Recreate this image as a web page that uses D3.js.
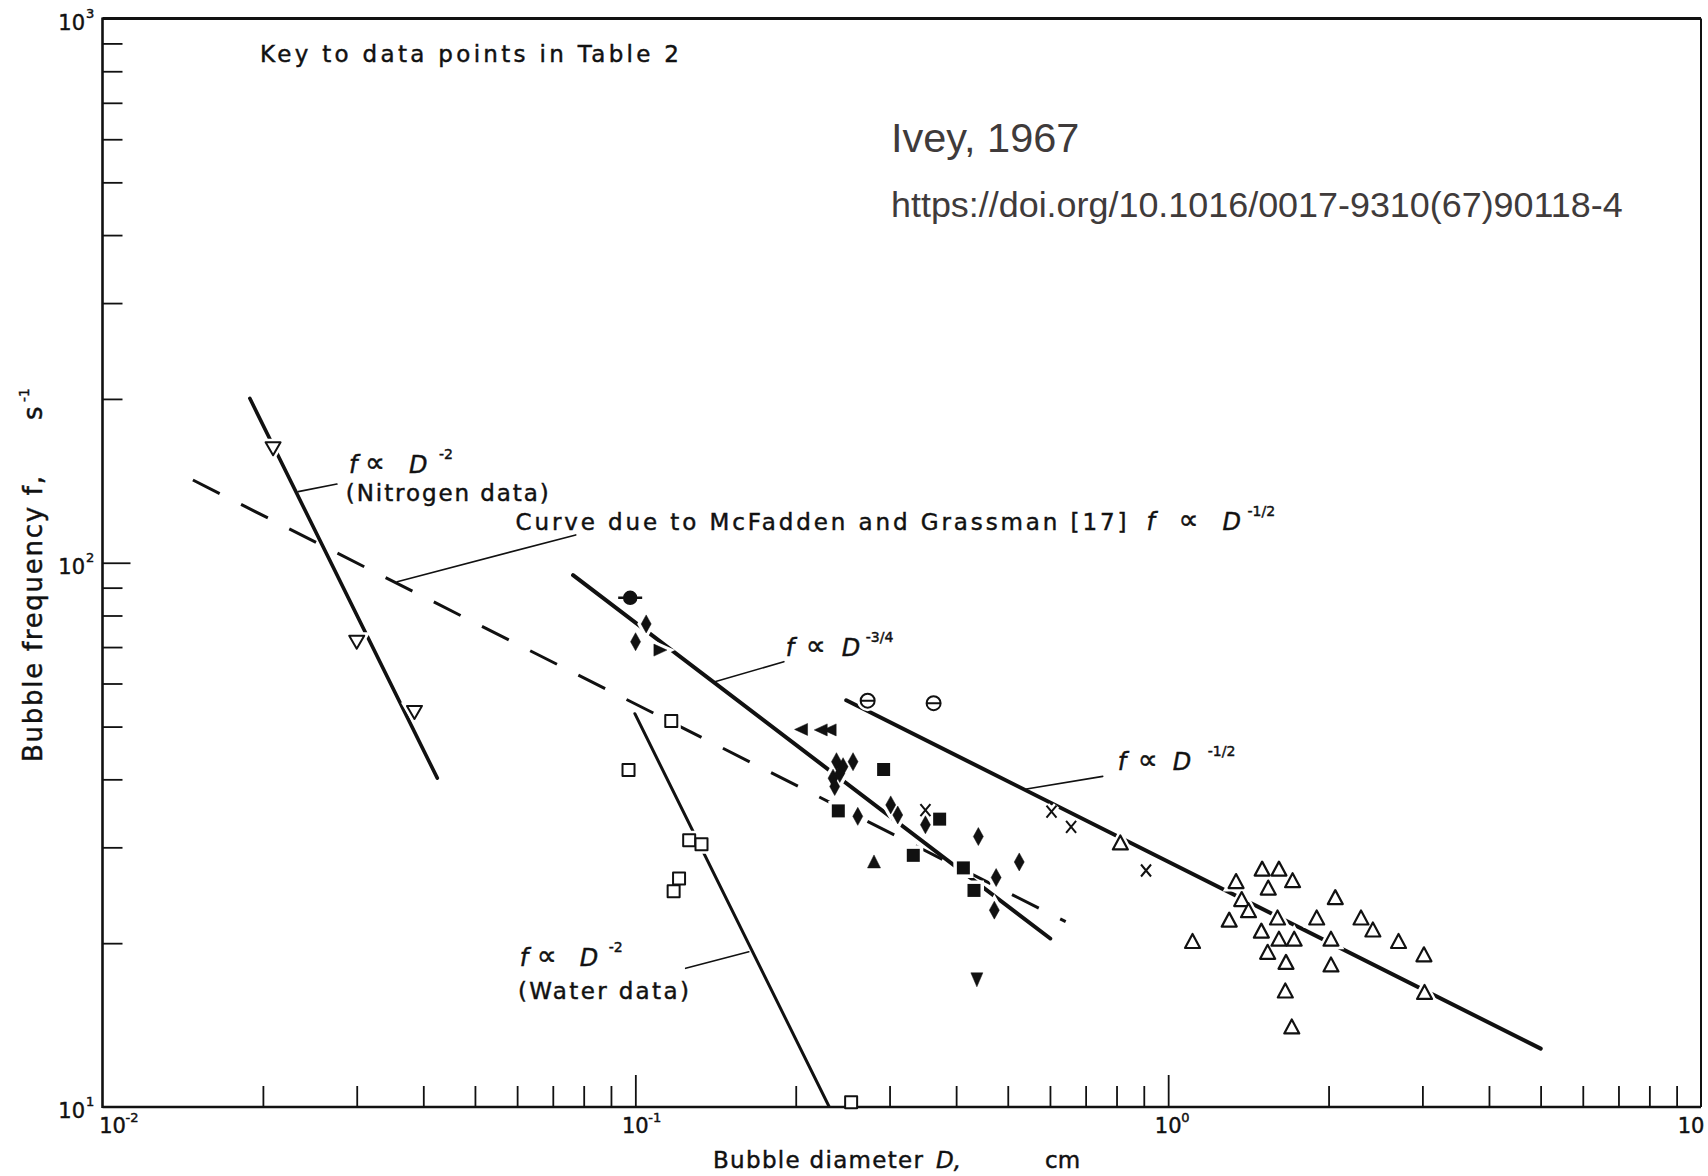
<!DOCTYPE html>
<html>
<head>
<meta charset="utf-8">
<script src="https://cdn.jsdelivr.net/npm/d3@7"></script>
<style>
  html, body { margin: 0; padding: 0; background: #fff; }
  svg { display: block; }
</style>
</head>
<body>
<div id="chart"></div>
<script>
// values: D in cm, f in 1/s
const nitrogenPts = [[0.0209, 162.3], [0.0300, 71.6], [0.0385, 53.2]];
const waterPts = [[0.1168, 51.2], [0.0971, 41.6], [0.1262, 30.9], [0.1331, 30.4], [0.1208, 26.3], [0.1180, 24.9], [0.2541, 10.2]];
const diamondPts = [
  [0.1048, 77.2], [0.1001, 71.6], [0.2385, 43.1], [0.2454, 42.2], [0.2562, 43.1], [0.2350, 40.2],
  [0.2419, 41.0], [0.2367, 38.8], [0.2615, 34.2], [0.3015, 35.9], [0.3108, 34.4], [0.3503, 33.0],
  [0.4403, 31.4], [0.4755, 26.4], [0.5254, 28.2], [0.4718, 23.0]
];
const squarePts = [[0.2924, 41.7], [0.2404, 35.0], [0.3725, 33.8], [0.3324, 29.0], [0.4127, 27.5], [0.4321, 25.0]];
const leftTriPts = [[0.2051, 49.4], [0.2233, 49.3], [0.2321, 49.3]];
const rightTriPts = [[0.1112, 69.1]];
const upTriPts = [[0.2805, 28.2]];
const downTriPts = [[0.4375, 17.2]];
const dotBarPts = [[0.0978, 86.2]];
const crossPts = [[0.3503, 35.1], [0.604, 34.9], [0.6574, 32.7], [0.9088, 27.2]];
const thetaPts = [[0.2729, 55.8], [0.3629, 55.2]];
const openTriPts = [
  [0.8133, 30.5], [1.111, 20.1], [1.302, 22.0], [1.341, 25.9], [1.374, 24.0], [1.415, 22.9],
  [1.501, 27.3], [1.614, 27.3], [1.541, 25.2], [1.712, 26.0], [1.496, 21.0], [1.604, 22.2],
  [1.614, 20.3], [1.724, 20.3], [1.537, 19.2], [1.664, 18.4], [1.659, 16.3], [1.706, 14.0],
  [1.900, 22.2], [2.059, 24.2], [2.021, 20.3], [2.021, 18.2], [2.301, 22.2], [2.422, 21.1],
  [2.706, 20.1], [3.020, 19.0], [3.028, 16.2]
];

// fitted lines (end points)
const nitrogenFit = [[0.0189, 200.5], [0.0425, 40.2]];
const waterFit = [[0.0998, 52.8], [0.2312, 10]];
const mcFaddenCurve = [[0.01478, 141.9], [0.6422, 21.9]];
const fitThreeQuarter = [[0.0764, 94.9], [0.6008, 20.4]];
const fitHalf = [[0.2488, 55.9], [5.003, 12.8]];

// label leader lines
const leaders = [
  [[0.0233, 135.1], [0.02754, 139.5]],
  [[0.03573, 92.3], [0.07729, 112.5]],
  [[0.141, 60.44], [0.19, 65.8]],
  [[0.542, 38.4], [0.7537, 40.5]],
  [[0.1633, 19.29], [0.1243, 17.98]]
];

const xExps = [-2, -1, 0, 1];
const yExps = [1, 2, 3];

const W = 1708, H = 1176;
const L = 102.5, R = 1701, T = 18.5, B = 1107;
const ink = '#111';

const x = d3.scaleLog().domain([0.01, 10]).range([L, R]);
const y = d3.scaleLog().domain([10, 1000]).range([B, T]);
const line = d3.line().x(d => x(d[0])).y(d => y(d[1]));

const svg = d3.select('#chart').append('svg')
  .attr('width', W)
  .attr('height', H)
  .style('font-family', '"DejaVu Sans", sans-serif');

svg.append('rect').attr('width', W).attr('height', H).attr('fill', '#fff');

svg.append('clipPath').attr('id', 'plot')
  .append('rect').attr('x', L).attr('y', T).attr('width', R - L).attr('height', B - T);

// lines
const lines = svg.append('g')
  .attr('clip-path', 'url(#plot)')
  .attr('fill', 'none')
  .attr('stroke', ink)
  .attr('stroke-linecap', 'round');

lines.append('path').attr('d', line(nitrogenFit)).attr('stroke-width', 3.6);
lines.append('path').attr('d', line(waterFit)).attr('stroke-width', 3);
lines.append('path').attr('d', line(fitThreeQuarter)).attr('stroke-width', 4);
lines.append('path').attr('d', line(fitHalf)).attr('stroke-width', 4);
lines.append('path').attr('d', line(mcFaddenCurve))
  .attr('stroke-width', 3)
  .attr('stroke-linecap', 'butt')
  .attr('stroke-dasharray', '30,24');

leaders.forEach(pts => {
  lines.append('path').attr('d', line(pts)).attr('stroke-width', 1.6);
});

// marker shapes
const shapes = {
  triUpOpen: { d: 'M0,-8L7.5,6L-7.5,6Z', fill: '#fff', sw: 2.2 },
  triDownOpen: { d: 'M0,7L7.5,-6L-7.5,-6Z', fill: '#fff', sw: 2 },
  squareOpen: { d: 'M-6,-6H6V6H-6Z', fill: '#fff', sw: 2 },
  square: { d: 'M-6.5,-6.5H6.5V6.5H-6.5Z', fill: ink, sw: 0 },
  diamond: { d: 'M0,-9L5,0L0,9L-5,0Z', fill: ink, sw: 0.5 },
  triLeft: { d: 'M-7,0L6,-6L6,6Z', fill: ink, sw: 0.5 },
  triRight: { d: 'M7,0L-6,-6L-6,6Z', fill: ink, sw: 0.5 },
  triUp: { d: 'M0,-7L6.5,6L-6.5,6Z', fill: ink, sw: 0.5 },
  triDown: { d: 'M0,8L6,-6L-6,-6Z', fill: ink, sw: 0.5 },
  cross: { d: 'M-5,-6L5,6M5,-6L-5,6', fill: 'none', sw: 2 },
  theta: { d: 'M-7,0A7,7 0 1,0 7,0A7,7 0 1,0 -7,0ZM-7,0H7', fill: '#fff', sw: 2 },
  dotBar: { d: 'M-6,0A6,6 0 1,0 6,0A6,6 0 1,0 -6,0ZM-12,0H12', fill: ink, sw: 2.5 }
};

const series = [
  { pts: nitrogenPts, shape: 'triDownOpen' },
  { pts: waterPts, shape: 'squareOpen' },
  { pts: diamondPts, shape: 'diamond' },
  { pts: squarePts, shape: 'square' },
  { pts: leftTriPts, shape: 'triLeft' },
  { pts: rightTriPts, shape: 'triRight' },
  { pts: upTriPts, shape: 'triUp' },
  { pts: downTriPts, shape: 'triDown' },
  { pts: dotBarPts, shape: 'dotBar' },
  { pts: crossPts, shape: 'cross' },
  { pts: thetaPts, shape: 'theta' },
  { pts: openTriPts, shape: 'triUpOpen' }
];

// white halo under the markers breaks the lines around them
const halo = svg.append('g');
series.forEach(s => {
  halo.selectAll(null)
    .data(s.pts)
    .join('path')
    .attr('transform', d => `translate(${x(d[0])},${y(d[1])})`)
    .attr('d', shapes[s.shape].d)
    .attr('fill', '#fff')
    .attr('stroke', '#fff')
    .attr('stroke-width', 7);
});

// frame and ticks
const axes = svg.append('g').attr('stroke', ink);

const decadeTicks = (lo, hi) => {
  const out = [];
  for (let e = lo; e < hi; e++) for (let k = 2; k <= 9; k++) out.push(k * Math.pow(10, e));
  return out;
};

const xAxisMinor = d3.axisBottom(x).tickValues(decadeTicks(-2, 1)).tickSize(-21).tickSizeOuter(0).tickFormat('');
const xAxisMajor = d3.axisBottom(x).tickValues([0.1, 1]).tickSize(-32).tickSizeOuter(0).tickFormat('');
const yAxisMinor = d3.axisLeft(y).tickValues(decadeTicks(1, 3)).tickSize(-20).tickSizeOuter(0).tickFormat('');
const yAxisMajor = d3.axisLeft(y).tickValues([100]).tickSize(-28).tickSizeOuter(0).tickFormat('');

[[xAxisMinor, `translate(0,${B})`], [xAxisMajor, `translate(0,${B})`],
 [yAxisMinor, `translate(${L},0)`], [yAxisMajor, `translate(${L},0)`]].forEach(([ax, tr]) => {
  const g = svg.append('g').attr('transform', tr).call(ax);
  g.select('.domain').remove();
  g.selectAll('.tick line').attr('stroke', ink).attr('stroke-width', 1.8);
});

axes.append('line').attr('x1', L).attr('x2', R).attr('y1', T).attr('y2', T).attr('stroke-width', 3);
axes.append('line').attr('x1', R).attr('x2', R).attr('y1', T).attr('y2', B).attr('stroke-width', 2);
axes.append('line').attr('x1', L).attr('x2', L).attr('y1', T - 1).attr('y2', B + 1).attr('stroke-width', 2.6);
axes.append('line').attr('x1', L).attr('x2', R).attr('y1', B).attr('y2', B).attr('stroke-width', 2.6);

// markers
const marks = svg.append('g');
series.forEach(s => {
  const sh = shapes[s.shape];
  marks.selectAll(null)
    .data(s.pts)
    .join('path')
    .attr('transform', d => `translate(${x(d[0])},${y(d[1])})`)
    .attr('d', sh.d)
    .attr('fill', sh.fill)
    .attr('stroke', ink)
    .attr('stroke-width', sh.sw)
    .attr('stroke-linejoin', 'round');
});

// text, slightly stroked to look like the scanned lettering
const labels = svg.append('g')
  .attr('fill', ink)
  .attr('stroke', ink)
  .attr('stroke-width', 0.45);

// tick labels
const xShift = [10, 0, 0, -10];
xExps.forEach((e, i) => {
  const cx = x(Math.pow(10, e)) + xShift[i];
  labels.append('text').attr('x', cx).attr('y', B + 26).attr('font-size', 21)
    .attr('text-anchor', 'middle').text('10');
  labels.append('text').attr('x', cx + 13).attr('y', B + 15).attr('font-size', 13)
    .text(e === 1 ? '' : e);
});
yExps.forEach(e => {
  const cy = y(Math.pow(10, e));
  labels.append('text').attr('x', 85).attr('y', cy + 11).attr('font-size', 21)
    .attr('text-anchor', 'end').text('10');
  labels.append('text').attr('x', 86).attr('y', cy - 1).attr('font-size', 13).text(e);
});

// axis titles
labels.append('text')
  .attr('transform', 'translate(42,762) rotate(-90)')
  .attr('font-size', 26)
  .attr('textLength', 286)
  .attr('lengthAdjust', 'spacing')
  .text('Bubble frequency f,');
labels.append('text').attr('transform', 'translate(42,420) rotate(-90)').attr('font-size', 26).text('s');
labels.append('text').attr('transform', 'translate(29,402) rotate(-90)').attr('font-size', 14).text('-1');

labels.append('text').attr('x', 713).attr('y', 1168).attr('font-size', 23)
  .attr('textLength', 210).attr('lengthAdjust', 'spacing').text('Bubble diameter');
labels.append('text').attr('x', 936).attr('y', 1168).attr('font-size', 23)
  .attr('font-style', 'italic').text('D,');
labels.append('text').attr('x', 1045).attr('y', 1168).attr('font-size', 23).text('cm');

labels.append('text').attr('x', 260).attr('y', 62).attr('font-size', 23)
  .attr('textLength', 419).attr('lengthAdjust', 'spacing').text('Key to data points in Table 2');

// f ∝ D^n labels; offs = [f, ∝, D, exponent] in px from the anchor
const formula = (d, f, sup, offs) => {
  const px = x(d), py = y(f);
  const g = labels.append('g').attr('font-size', 24);
  g.append('text').attr('x', px + offs[0]).attr('y', py).attr('font-style', 'italic').text('f');
  g.append('text').attr('x', px + offs[1]).attr('y', py - 1).attr('font-size', 28).text('\u221D');
  g.append('text').attr('x', px + offs[2]).attr('y', py).attr('font-style', 'italic').text('D');
  g.append('text').attr('x', px + offs[3]).attr('y', py - 14).attr('font-size', 14).text(sup);
};

formula(0.0290, 146.2, '-2', [0, 16, 60, 90]);
labels.append('text').attr('x', x(0.02862)).attr('y', y(130.0)).attr('font-size', 23)
  .attr('textLength', 203).attr('lengthAdjust', 'spacing').text('(Nitrogen data)');

labels.append('text').attr('x', x(0.05957)).attr('y', y(114.9)).attr('font-size', 23)
  .attr('textLength', 611).attr('lengthAdjust', 'spacing').text('Curve due to McFadden and Grassman [17]');
formula(0.05957, 114.9, '-1/2', [631, 663, 707, 732]);

formula(0.1916, 67.3, '-3/4', [0, 20, 56, 80]);
formula(0.8042, 41.6, '-1/2', [0, 20, 55, 90]);

formula(0.0607, 18.12, '-2', [0, 17, 60, 89]);
labels.append('text').attr('x', x(0.0602)).attr('y', y(15.79)).attr('font-size', 23)
  .attr('textLength', 171).attr('lengthAdjust', 'spacing').text('(Water data)');

// source note
const note = svg.append('g')
  .style('font-family', '"Liberation Sans", Arial, sans-serif')
  .attr('fill', '#3f3b3b');
note.append('text').attr('x', 891).attr('y', 152).attr('font-size', 41.5).text('Ivey, 1967');
note.append('text').attr('x', 891).attr('y', 217).attr('font-size', 35.9)
  .text('https://doi.org/10.1016/0017-9310(67)90118-4');
</script>
</body>
</html>
